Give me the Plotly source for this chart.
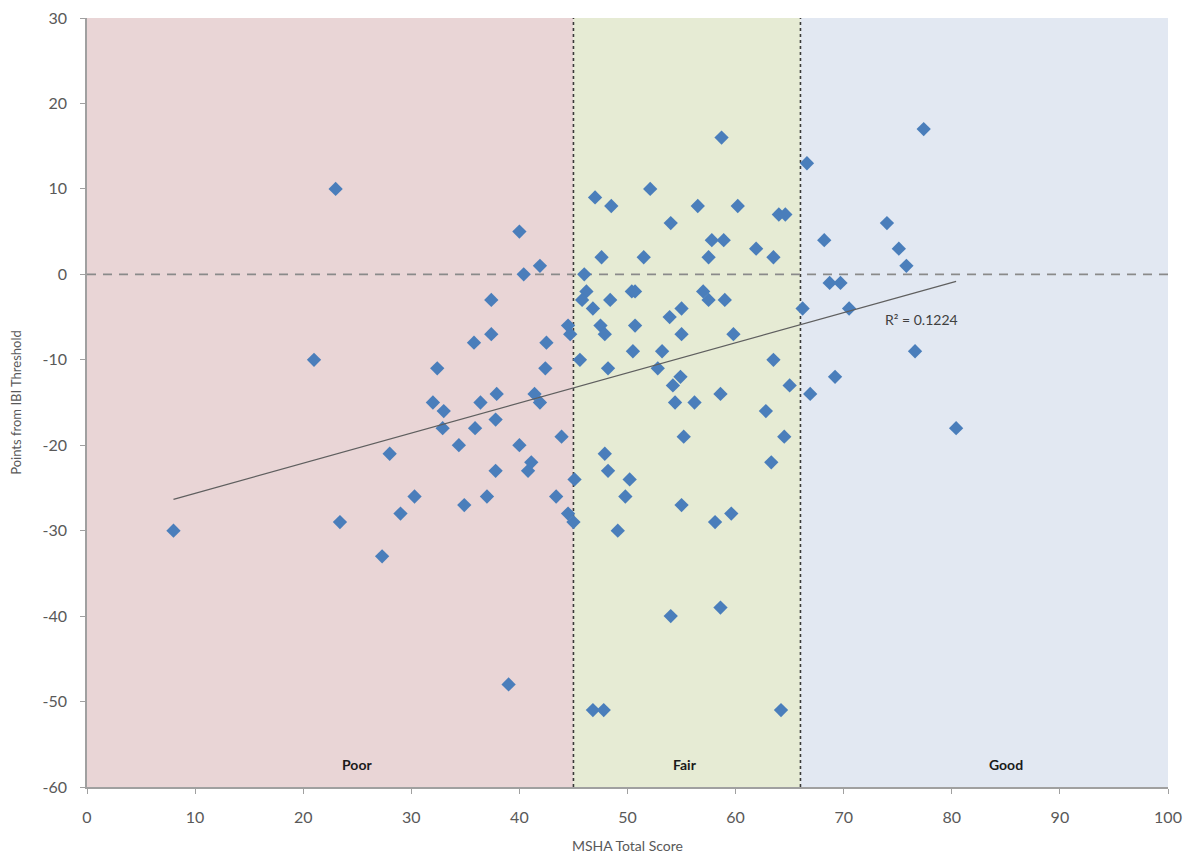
import numpy as np
import plotly.graph_objects as go

# ---- data ----
msha_score = [
    8, 21, 23, 23.4, 27.3, 28, 29, 30.3, 32, 32.4, 33, 32.9, 34.4, 34.9, 35.8, 35.9, 36.4, 37, 37.4, 37.4,
    37.8, 37.8, 37.9, 39, 40, 40, 40.4, 40.8, 41.1, 41.4, 41.9, 41.9, 42.5, 42.4, 43.4, 43.9, 44.5, 44.7, 44.5, 45,
    45.1, 45.6, 46, 46.2, 45.8, 46.8, 47, 47.6, 47.5, 47.9, 47.9, 46.8, 47.8, 48.2, 48.2, 48.4, 48.5, 49.1, 49.8, 50.2,
    50.4, 50.7, 50.5, 50.7, 51.5, 52.1, 52.8, 53.2, 53.9, 54, 54, 54.2, 54.4, 54.9, 55, 55, 55, 55.2, 56.2, 56.5,
    57, 57.5, 57.5, 57.8, 58.1, 58.6, 58.6, 58.7, 58.9, 59, 59.6, 59.8, 60.2, 61.9, 62.8, 63.3, 63.5, 63.5, 64, 64.6,
    64.2, 64.5, 65,
    66.2, 66.6, 66.9, 68.2, 68.7, 69.7, 69.2, 70.5, 74, 75.1, 75.8, 76.6, 77.4, 80.4,
]
ibi_points = [
    -30, -10, 10, -29, -33, -21, -28, -26, -15, -11, -16, -18, -20, -27, -8, -18, -15, -26, -3, -7,
    -17, -23, -14, -48, 5, -20, 0, -23, -22, -14, 1, -15, -8, -11, -26, -19, -6, -7, -28, -29,
    -24, -10, 0, -2, -3, -4, 9, 2, -6, -7, -21, -51, -51, -11, -23, -3, 8, -30, -26, -24,
    -2, -2, -9, -6, 2, 10, -11, -9, -5, 6, -40, -13, -15, -12, -4, -7, -27, -19, -15, 8,
    -2, -3, 2, 4, -29, -14, -39, 16, 4, -3, -28, -7, 8, 3, -16, -22, 2, -10, 7, 7,
    -51, -19, -13,
    -4, 13, -14, 4, -1, -1, -12, -4, 6, 3, 1, -9, 17, -18,
]

class_names = ["Poor", "Fair", "Good"]
class_bounds = [0, 45, 66, 100]
class_colors = ["#e9d5d6", "#e6ebd4", "#e2e8f2"]
class_label_x = [25, 55.3, 85]
r2_text = "R\u00b2 = 0.1224"

x_ticks = list(range(0, 101, 10))
y_ticks = list(range(-60, 31, 10))
y_tick_text = [str(v) for v in y_ticks]  # ASCII hyphen minus like the reference

x = np.array(msha_score, dtype=float)
y = np.array(ibi_points, dtype=float)
slope, intercept = np.polyfit(x, y, 1)
tx = np.array([x.min(), x.max()])
ty = intercept + slope * tx

font_family = "Lato, 'Open Sans', Arial, sans-serif"
axis_color = "#595959"

fig = go.Figure()

fig.add_trace(go.Scatter(
    x=x, y=y, mode="markers",
    marker=dict(symbol="diamond", size=11, color="#4a7ebb", line=dict(width=0)),
    showlegend=False, hoverinfo="x+y",
))
fig.add_trace(go.Scatter(
    x=tx, y=ty, mode="lines",
    line=dict(color="#5f5f5f", width=1.2),
    showlegend=False, hoverinfo="skip",
))

shapes = []
for i, name in enumerate(class_names):
    shapes.append(dict(type="rect", xref="x", yref="y",
                       x0=class_bounds[i], x1=class_bounds[i + 1], y0=y_ticks[0], y1=y_ticks[-1],
                       fillcolor=class_colors[i], line=dict(width=0), layer="below"))
for b in class_bounds[1:-1]:
    shapes.append(dict(type="line", xref="x", yref="y", x0=b, x1=b, y0=y_ticks[0], y1=y_ticks[-1],
                       line=dict(color="#3a3a3a", width=1.6, dash="dot"), layer="below"))
shapes.append(dict(type="line", xref="x", yref="y", x0=x_ticks[0], x1=x_ticks[-1], y0=0, y1=0,
                   line=dict(color="#8a8a8a", width=1.6, dash="9px,7px"), layer="below"))

annotations = []
for name, lx in zip(class_names, class_label_x):
    annotations.append(dict(x=lx, y=-57.4, xref="x", yref="y", text=f"<b>{name}</b>",
                            showarrow=False, font=dict(family=font_family, size=14, color="#1a1a1a")))
annotations.append(dict(x=77.2, y=-5.3, xref="x", yref="y", text=r2_text, showarrow=False,
                        font=dict(family=font_family, size=14, color="#404040")))

fig.update_layout(
    width=1198, height=858,
    margin=dict(l=79, r=38, t=10, b=79),
    paper_bgcolor="white", plot_bgcolor="white",
    shapes=shapes, annotations=annotations,
    font=dict(family=font_family, size=14, color=axis_color),
    xaxis=dict(range=[0, 100], tickvals=x_ticks, showgrid=False, zeroline=False,
               showline=True, linecolor="#a0a0a0", linewidth=1.5,
               ticks="outside", ticklen=5, tickcolor="#a0a0a0", automargin=False,
               ticklabelstandoff=10, ticklabeloverflow="allow",
               tickfont=dict(size=16, color=axis_color),
               title=dict(text="MSHA Total Score", font=dict(size=14, color=axis_color), standoff=16)),
    yaxis=dict(range=[-60, 30], tickvals=y_ticks, ticktext=y_tick_text, showgrid=False, zeroline=False,
               showline=True, linecolor="#a0a0a0", linewidth=1.5,
               ticks="outside", ticklen=5, tickcolor="#a0a0a0", automargin=False,
               ticklabelstandoff=10, ticklabeloverflow="allow",
               tickfont=dict(size=16, color=axis_color),
               title=dict(text="Points from IBI Threshold", font=dict(size=13, color=axis_color), standoff=26)),
)

fig.write_html("out.html")
